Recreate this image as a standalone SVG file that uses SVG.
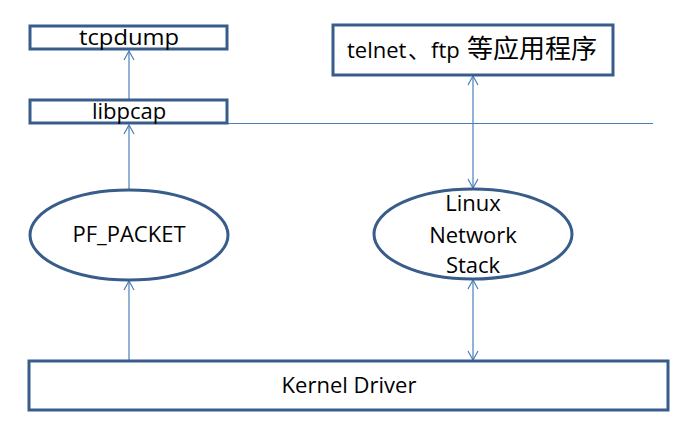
<svg xmlns="http://www.w3.org/2000/svg" width="697" height="442" viewBox="0 0 697 442">
<style>
.box{fill:#fff;stroke:#385D8A;stroke-width:3}
.t{font-family:"Open Sans","Liberation Sans","Noto Sans CJK SC",sans-serif;font-size:22px;fill:#000;text-anchor:middle}
.c{fill:none;stroke:#4A7EBB;stroke-width:1.2}
</style>
<defs>
<marker id="a" markerWidth="12" markerHeight="12" refX="10" refY="6" orient="auto-start-reverse" markerUnits="userSpaceOnUse">
<path d="M1,1 L10,6 L1,11" fill="none" stroke="#4A7EBB" stroke-width="1.2"/>
</marker>
</defs>
<rect width="697" height="442" fill="#fff"/>
<g id="connectors">
<line class="c" x1="227" y1="123.5" x2="653" y2="123.5"/>
<line class="c" x1="129" y1="100" x2="129" y2="51" marker-end="url(#a)"/>
<line class="c" x1="129" y1="189" x2="129" y2="125" marker-end="url(#a)"/>
<line class="c" x1="129" y1="360" x2="129" y2="281" marker-end="url(#a)"/>
<line class="c" x1="473" y1="76" x2="473" y2="188" marker-start="url(#a)" marker-end="url(#a)"/>
<line class="c" x1="473" y1="280" x2="473" y2="360" marker-start="url(#a)" marker-end="url(#a)"/>
</g>
<g id="tcpdump">
<rect class="box" x="30" y="26" width="197" height="23"/>
<text class="t" x="129" y="44.5" textLength="100" lengthAdjust="spacingAndGlyphs">tcpdump</text>
</g>
<g id="libpcap">
<rect class="box" x="30" y="100" width="197" height="23"/>
<text class="t" x="129" y="118.5">libpcap</text>
</g>
<g id="apps">
<rect class="box" x="333" y="25" width="280" height="50"/>
<text class="t" y="58" style="text-anchor:start"><tspan x="347">telnet</tspan><tspan x="408">、</tspan><tspan x="431">ftp</tspan><tspan x="467" style="font-size:26px">等应用程序</tspan></text>
</g>
<g id="pf_packet">
<ellipse class="box" cx="129" cy="235" rx="99" ry="45"/>
<text class="t" x="129" y="242">PF_PACKET</text>
</g>
<g id="linux_stack">
<ellipse class="box" cx="473" cy="234" rx="99" ry="45"/>
<text class="t" x="473" y="211">Linux</text>
<text class="t" x="473" y="243">Network</text>
<text class="t" x="473" y="273">Stack</text>
</g>
<g id="kernel_driver">
<rect class="box" x="29" y="361" width="639" height="49"/>
<text class="t" x="349" y="393">Kernel Driver</text>
</g>
</svg>
